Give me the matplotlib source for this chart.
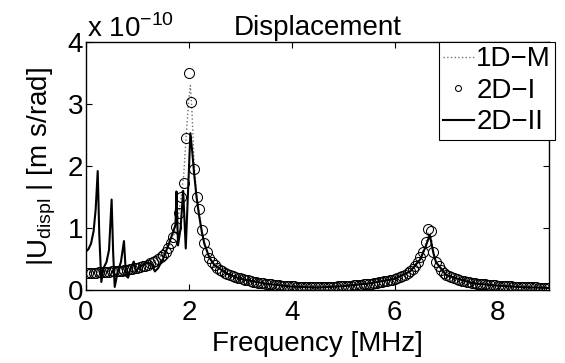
import matplotlib
matplotlib.use('Agg')
import matplotlib.pyplot as plt
import numpy as np

plt.rcParams['font.family'] = ['Liberation Sans', 'DejaVu Sans']

# 2D-I (circles), sampled every 0.05 MHz from 0 to 9 MHz, units of 1e-10
freq_2d1 = np.round(np.arange(0, 9.001, 0.05), 2)
disp_2d1 = [
    0.28, 0.28, 0.28, 0.28, 0.28, 0.285, 0.29, 0.29, 0.29, 0.295,
    0.30, 0.30, 0.305, 0.31, 0.315, 0.32, 0.33, 0.335, 0.34, 0.35,
    0.36, 0.37, 0.38, 0.39, 0.41, 0.43, 0.45, 0.47, 0.50, 0.53,
    0.57, 0.62, 0.68, 0.76, 0.86, 1.02, 1.25, 1.50, 1.72, 2.46,
    3.50, 3.03, 1.95, 1.50, 1.30, 0.97, 0.76, 0.62, 0.52, 0.45,
    0.40, 0.36, 0.33, 0.30, 0.28, 0.26, 0.24, 0.225, 0.21, 0.20,
    0.19, 0.175, 0.165, 0.155, 0.145, 0.135, 0.128, 0.12, 0.113, 0.107,
    0.10, 0.095, 0.09, 0.085, 0.08, 0.076, 0.072, 0.069, 0.066, 0.063,
    0.06, 0.058, 0.056, 0.054, 0.052, 0.05, 0.049, 0.048, 0.048, 0.048,
    0.048, 0.048, 0.049, 0.05, 0.051, 0.053, 0.055, 0.057, 0.059, 0.061,
    0.064, 0.066, 0.069, 0.072, 0.075, 0.078, 0.082, 0.086, 0.09, 0.094,
    0.099, 0.104, 0.11, 0.116, 0.122, 0.13, 0.138, 0.147, 0.157, 0.168,
    0.18, 0.195, 0.21, 0.228, 0.25, 0.275, 0.305, 0.345, 0.395, 0.455,
    0.53, 0.62, 0.78, 0.99, 0.96, 0.62, 0.46, 0.38, 0.32, 0.28,
    0.25, 0.225, 0.205, 0.19, 0.175, 0.162, 0.15, 0.14, 0.132, 0.124,
    0.117, 0.11, 0.104, 0.099, 0.094, 0.09, 0.086, 0.082, 0.078, 0.075,
    0.072, 0.069, 0.066, 0.063, 0.06, 0.058, 0.056, 0.054, 0.052, 0.05,
    0.048, 0.046, 0.045, 0.044, 0.042, 0.041, 0.04, 0.039, 0.038, 0.037,
    0.036,
]

# 1D-M (dotted line)
freq_1dm = [0, 0.5, 1.0, 1.3, 1.5, 1.6, 1.7, 1.75, 1.8, 1.85, 1.9, 1.95, 2.0, 2.03,
            2.06, 2.1, 2.15, 2.2, 2.25, 2.3, 2.4, 2.5, 2.75, 3.0, 3.5, 4.0, 4.5,
            5.0, 5.5, 6.0, 6.3, 6.5, 6.6, 6.65, 6.7, 6.75, 6.8, 7.0, 7.5, 8.0, 8.5, 9.0]
disp_1dm = [0.28, 0.30, 0.36, 0.45, 0.57, 0.68, 0.86, 1.0, 1.22, 1.5, 1.85, 2.5, 3.1, 3.3,
            2.9, 2.1, 1.55, 1.25, 0.97, 0.77, 0.53, 0.40, 0.26, 0.19, 0.10, 0.06, 0.048,
            0.064, 0.11, 0.18, 0.30, 0.53, 0.75, 0.92, 0.92, 0.62, 0.46, 0.25, 0.117, 0.072, 0.05, 0.036]

# 2D-II (solid line)
freq_2d2 = [0.0, 0.05, 0.1, 0.15, 0.19, 0.23, 0.26, 0.30, 0.34, 0.40, 0.45, 0.50, 0.53,
            0.56, 0.62, 0.68, 0.74, 0.78, 0.82, 0.87, 0.93, 0.97, 1.02, 1.1, 1.2, 1.28,
            1.34, 1.4, 1.5, 1.6, 1.7, 1.74, 1.76, 1.79, 1.84, 1.89, 1.94, 2.03, 2.07,
            2.1, 2.15, 2.2, 2.25, 2.3, 2.4, 2.5, 2.75, 3.0, 3.5, 4.0, 4.5, 5.0, 5.5,
            6.0, 6.3, 6.5, 6.6, 6.68, 6.75, 6.8, 7.0, 7.5, 8.0, 8.5, 9.0]
disp_2d2 = [0.62, 0.66, 0.75, 0.95, 1.3, 1.92, 0.9, 0.13, 0.35, 0.45, 0.65, 1.46, 0.6,
            0.05, 0.3, 0.45, 0.79, 0.23, 0.2, 0.35, 0.46, 0.3, 0.35, 0.4, 0.44, 0.42,
            0.30, 0.35, 0.5, 0.72, 0.95, 1.05, 1.59, 0.72, 1.0, 1.6, 0.67, 2.53, 2.2,
            1.9, 1.5, 1.2, 0.95, 0.75, 0.52, 0.40, 0.26, 0.18, 0.10, 0.055, 0.04, 0.062,
            0.105, 0.18, 0.30, 0.50, 0.70, 0.89, 0.60, 0.45, 0.24, 0.11, 0.07, 0.045, 0.033]

fs = 20

fig = plt.figure(figsize=(5.65, 3.63), dpi=100)
ax = fig.add_axes([0.152, 0.201, 0.820, 0.683])

ax.plot(freq_1dm, disp_1dm, color='0.45', linestyle=':', linewidth=1.0, label='1D\u2212M')
ax.plot(freq_2d1, disp_2d1, linestyle='none', marker='o', markersize=7.2,
        markerfacecolor='none', markeredgecolor='black', markeredgewidth=0.75, label='2D\u2212I')
ax.plot(freq_2d2, disp_2d2, color='black', linewidth=1.5, label='2D\u2212II')

ax.set_xlim(0, 9)
ax.set_ylim(0, 4)
ax.set_xticks([0, 2, 4, 6, 8])
ax.set_yticks([0, 1, 2, 3, 4])
ax.tick_params(direction='in', top=True, right=True, labelsize=fs, length=4)
ax.tick_params(axis='x', pad=7)
ax.tick_params(axis='y', pad=2)
for s in ax.spines.values():
    s.set_linewidth(1.0)

ax.set_xlabel('Frequency [MHz]', fontsize=fs, labelpad=4)
ax.set_ylabel('|U$_{\\mathregular{displ}}$ | [m s/rad]', fontsize=fs, labelpad=7)
ax.set_title('Displacement', fontsize=fs, pad=5)
ax.text(0.003, 1.02, 'x 10$^{\\mathregular{\u221210}}$', transform=ax.transAxes,
        fontsize=fs, ha='left', va='baseline')

leg = ax.legend(loc='upper right', bbox_to_anchor=(1.013, 1.0), fontsize=fs,
                frameon=True, fancybox=False, edgecolor='black', framealpha=1,
                handlelength=1.1, handletextpad=0.1, borderpad=0.15, labelspacing=0.2,
                borderaxespad=0, markerscale=0.6)
leg.get_frame().set_linewidth(0.8)

fig.savefig('out.png', dpi=100)
